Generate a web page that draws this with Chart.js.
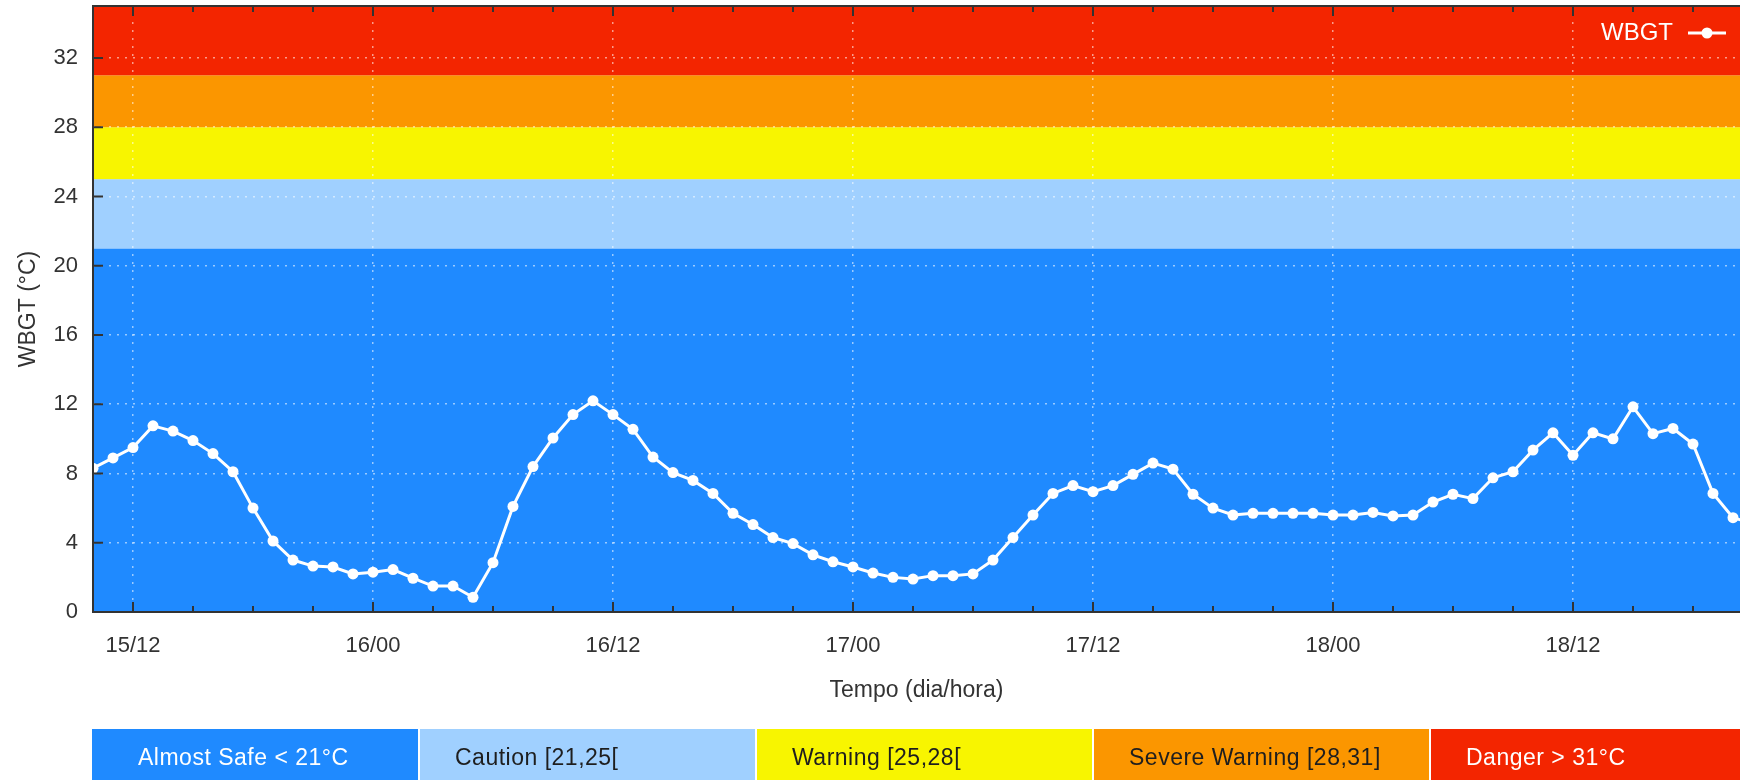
<!DOCTYPE html>
<html lang="pt">
<head>
<meta charset="utf-8">
<title>WBGT</title>
<script src="https://cdn.jsdelivr.net/npm/chart.js@4.4.1/dist/chart.umd.min.js"></script>
<style>
  html, body { margin: 0; padding: 0; background: #fff; overflow: hidden; }
  #contenedor { position: relative; width: 1740px; height: 780px; overflow: hidden; }
  #grafico { position: absolute; left: 0; top: 0; }
  #leyenda-niveles { position: absolute; left: 92px; top: 729px; display: flex; gap: 2px; height: 60px; }
  .nivel { box-sizing: border-box; flex: none; width: 335px; height: 60px; padding-left: 35px;
           font: 23px "Liberation Sans", Arial, sans-serif; line-height: 57px; letter-spacing: 0.5px; white-space: nowrap; }
  .nivel:first-child { width: 326px; padding-left: 46px; }
</style>
</head>
<body>
<div id="contenedor">
  <canvas id="grafico" width="1740" height="780"></canvas>
  <div id="leyenda-niveles"></div>
</div>
<script>
// Eje Y
const yMin = 0, yMax = 35;
const yTicks = [0, 4, 8, 12, 16, 20, 24, 28, 32];

// Eje X: horas contadas desde el día 15 a las 00h
const xMin = 10, xMax = 92.35;
const xTickHoras = [12, 24, 36, 48, 60, 72, 84];
const xTickLabels = ['15/12', '16/00', '16/12', '17/00', '17/12', '18/00', '18/12'];
const xPasoMenor = 3;

// Serie horaria de WBGT (°C), primera lectura 15/10
const horaInicial = 10;
const wbgt = [
  8.3, 8.9, 9.5, 10.75, 10.45, 9.9, 9.15, 8.1, 6.0, 4.1,
  3.0, 2.65, 2.6, 2.2, 2.3, 2.45, 1.95, 1.5, 1.5, 0.85,
  2.85, 6.1, 8.4, 10.05, 11.4, 12.2, 11.4, 10.55, 8.95, 8.05,
  7.6, 6.85, 5.7, 5.05, 4.3, 3.95, 3.3, 2.9, 2.6, 2.25,
  2.0, 1.9, 2.1, 2.1, 2.2, 3.0, 4.3, 5.6, 6.85, 7.3,
  6.95, 7.3, 7.95, 8.6, 8.25, 6.8, 6.0, 5.6, 5.7, 5.7,
  5.7, 5.7, 5.6, 5.6, 5.75, 5.55, 5.6, 6.35, 6.8, 6.55,
  7.75, 8.1, 9.35, 10.35, 9.05, 10.35, 10.0, 11.85, 10.3, 10.6,
  9.7, 6.85, 5.45, 5.1
];

// Niveles de alerta
const nivelLimites = [0, 21, 25, 28, 31, 35];
const nivelTextos = ['Almost Safe < 21°C', 'Caution [21,25[', 'Warning [25,28[', 'Severe Warning [28,31]', 'Danger > 31°C'];
const nivelColores = ['#1f8aff', '#a0d0ff', '#f8f500', '#fb9600', '#f32500'];
const nivelColorTexto = ['#ffffff', '#1e1e1e', '#1e1e1e', '#1e1e1e', '#ffffff'];

const fuente = '"Liberation Sans", Arial, Helvetica, sans-serif';
Chart.defaults.font.family = fuente;

// Franjas de color detrás de la curva
const franjasPlugin = {
  id: 'franjas',
  beforeDraw(chart) {
    const { ctx, chartArea: a, scales: { y } } = chart;
    ctx.save();
    for (let i = 0; i < nivelColores.length; i++) {
      const yArriba = y.getPixelForValue(nivelLimites[i + 1]);
      const yAbajo = y.getPixelForValue(nivelLimites[i]);
      ctx.fillStyle = nivelColores[i];
      ctx.fillRect(a.left, yArriba, a.right - a.left, yAbajo - yArriba);
    }
    ctx.restore();
  }
};

// Marco, marcas hacia dentro y leyenda de la serie (estilo gnuplot)
const marcoPlugin = {
  id: 'marco',
  afterDatasetsDraw(chart) {
    const { ctx, chartArea: a, scales: { x, y } } = chart;
    ctx.save();
    ctx.strokeStyle = '#333';
    ctx.lineWidth = 2;
    ctx.beginPath();
    for (let h = Math.ceil(xMin / xPasoMenor) * xPasoMenor; h <= xMax; h += xPasoMenor) {
      const px = x.getPixelForValue(h);
      const largo = xTickHoras.includes(h) ? 10 : 6;
      ctx.moveTo(px, a.bottom); ctx.lineTo(px, a.bottom - largo);
      ctx.moveTo(px, a.top); ctx.lineTo(px, a.top + largo);
    }
    yTicks.forEach(v => {
      const py = y.getPixelForValue(v);
      ctx.moveTo(a.left, py); ctx.lineTo(a.left + 10, py);
    });
    ctx.stroke();

    ctx.beginPath();
    ctx.moveTo(a.right, a.top);
    ctx.lineTo(a.left, a.top);
    ctx.lineTo(a.left, a.bottom);
    ctx.lineTo(a.right, a.bottom);
    ctx.stroke();

    // leyenda
    const ds = chart.data.datasets[0];
    const ly = a.top + 27;
    ctx.fillStyle = '#fff';
    ctx.font = '24px ' + fuente;
    ctx.textAlign = 'right';
    ctx.textBaseline = 'middle';
    ctx.fillText(ds.label, a.right - 67, ly);
    ctx.strokeStyle = '#fff';
    ctx.lineWidth = 3;
    ctx.beginPath();
    ctx.moveTo(a.right - 52, ly); ctx.lineTo(a.right - 14, ly);
    ctx.stroke();
    ctx.beginPath();
    ctx.arc(a.right - 33, ly, 5.5, 0, Math.PI * 2);
    ctx.fill();
    ctx.restore();
  }
};

const cuadricula = {
  color: 'rgba(255,255,255,0.55)',
  lineWidth: 1.5,
  drawTicks: false
};

const sinRelleno = (scale) => {
  scale.paddingTop = 0;
  scale.paddingBottom = 0;
  scale.paddingLeft = 0;
  scale.paddingRight = 0;
};

new Chart(document.getElementById('grafico'), {
  type: 'line',
  data: {
    datasets: [{
      label: 'WBGT',
      data: wbgt.map((v, i) => ({ x: horaInicial + i, y: v })),
      borderColor: '#fff',
      borderWidth: 3,
      backgroundColor: '#fff',
      pointRadius: 5.5,
      pointBorderWidth: 0,
      pointBackgroundColor: '#fff',
      tension: 0,
      fill: false
    }]
  },
  options: {
    responsive: false,
    animation: false,
    layout: { autoPadding: false, padding: { top: 6, right: 0, left: 0, bottom: 0 } },
    plugins: {
      legend: { display: false },
      tooltip: { enabled: false }
    },
    scales: {
      x: {
        type: 'linear',
        min: xMin,
        max: xMax,
        afterBuildTicks: (scale) => { scale.ticks = xTickHoras.map(v => ({ value: v })); },
        afterFit: (scale) => { scale.height = 168; sinRelleno(scale); },
        grid: cuadricula,
        border: { display: false, dash: [2, 6] },
        ticks: {
          autoSkip: false,
          maxRotation: 0,
          padding: 21,
          color: '#333',
          font: { size: 22 },
          callback: (value) => xTickLabels[xTickHoras.indexOf(value)]
        },
        title: {
          display: true,
          text: 'Tempo (dia/hora)',
          color: '#333',
          font: { size: 23 },
          padding: { top: 0, bottom: 76 }
        }
      },
      y: {
        min: yMin,
        max: yMax,
        afterBuildTicks: (scale) => { scale.ticks = yTicks.map(v => ({ value: v })); },
        afterFit: (scale) => { scale.width = 93; sinRelleno(scale); },
        grid: cuadricula,
        border: { display: false, dash: [2, 6] },
        ticks: {
          padding: 15,
          color: '#333',
          font: { size: 22 }
        },
        title: {
          display: true,
          text: 'WBGT (°C)',
          color: '#333',
          font: { size: 23 },
          padding: { top: 15, bottom: 0 }
        }
      }
    }
  },
  plugins: [franjasPlugin, marcoPlugin]
});

// Barra inferior con los niveles
const barra = document.getElementById('leyenda-niveles');
nivelTextos.forEach((texto, i) => {
  const caja = document.createElement('div');
  caja.className = 'nivel';
  caja.style.background = nivelColores[i];
  caja.style.color = nivelColorTexto[i];
  caja.textContent = texto;
  barra.appendChild(caja);
});
</script>
</body>
</html>
